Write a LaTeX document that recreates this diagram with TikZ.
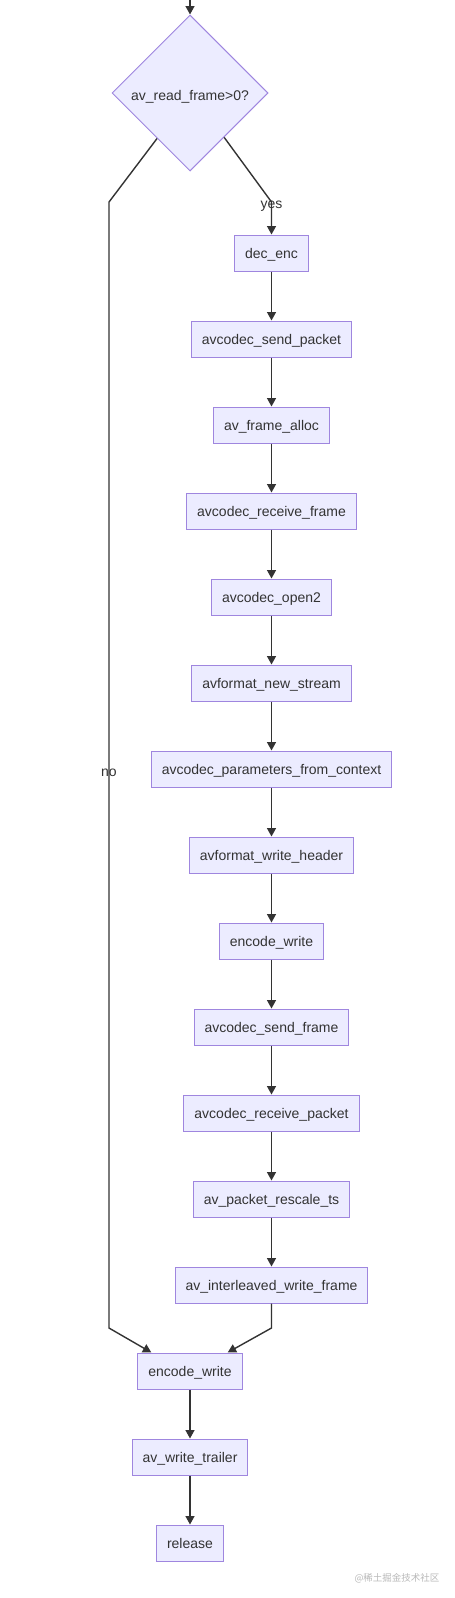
\documentclass[tikz,border=0pt]{standalone}
\usepackage{fontspec}
\setmainfont{Liberation Sans}
\newfontfamily\cjk{Noto Sans CJK SC}
\usetikzlibrary{shapes.geometric,arrows.meta,calc}
\definecolor{boxfill}{HTML}{ECECFF}
\definecolor{boxdraw}{HTML}{9F86DF}
\definecolor{edgecol}{HTML}{333333}
\definecolor{wmark}{HTML}{B8B8B8}
\begin{document}
\begin{tikzpicture}[x=1pt,y=-1pt,
  txt/.style={font=\fontsize{14pt}{16pt}\selectfont, text=edgecol},
  box/.style={txt, draw=boxdraw, fill=boxfill, line width=1pt, minimum height=36pt, inner xsep=10.5pt, inner ysep=0pt, text height=13pt, text depth=2pt},
  cond/.style={txt, diamond, draw=boxdraw, fill=boxfill, line width=1pt, minimum width=156pt, minimum height=156pt, inner sep=0pt, text height=15pt, text depth=1pt},
  flow/.style={draw=edgecol, line width=1.4pt, -{Triangle[length=8.5pt,width=9pt]}},
  lbl/.style={txt, inner sep=0pt}]
\useasboundingbox (0,0) rectangle (455,1598);

\node[cond] (rf) at (190,93) {av\_read\_frame>0?};

\node[box] (dec) at (271.5,253) {dec\_enc};
\node[box] (ssp) at (271.5,339) {avcodec\_send\_packet};
\node[box] (fal) at (271.5,425) {av\_frame\_alloc};
\node[box] (rcf) at (271.5,511) {avcodec\_receive\_frame};
\node[box] (op2) at (271.5,597) {avcodec\_open2};
\node[box] (nst) at (271.5,683) {avformat\_new\_stream};
\node[box] (pfc) at (271.5,769) {avcodec\_parameters\_from\_context};
\node[box] (wrh) at (271.5,855) {avformat\_write\_header};
\node[box] (ew1) at (271.5,941) {encode\_write};
\node[box] (ssf) at (271.5,1027) {avcodec\_send\_frame};
\node[box] (rcp) at (271.5,1113) {avcodec\_receive\_packet};
\node[box] (rts) at (271.5,1199) {av\_packet\_rescale\_ts};
\node[box] (iwf) at (271.5,1285) {av\_interleaved\_write\_frame};
\node[box] (ew2) at (190,1371) {encode\_write};
\node[box] (wtr) at (190,1457) {av\_write\_trailer};
\node[box] (rel) at (190,1543) {release};

\coordinate (start) at (190,0);
\draw[flow] (start) -- (rf.north);

\coordinate (nobend) at (109,202);
\coordinate (nojoin) at (109,1328);
\draw[flow] ($(rf.west)!0.58!(rf.south)$) -- (nobend) -- (nojoin) -- ($(ew2.north west)+(14,0)$);
\node[lbl] (nolbl) at (109,773) {no};

\coordinate (yesbend) at (271.5,202);
\draw[flow] ($(rf.east)!0.565!(rf.south)$) -- (yesbend) -- (dec.north);
\node[lbl] (yeslbl) at (271.5,206) {yes};

\draw[flow] (dec) -- (ssp);
\draw[flow] (ssp) -- (fal);
\draw[flow] (fal) -- (rcf);
\draw[flow] (rcf) -- (op2);
\draw[flow] (op2) -- (nst);
\draw[flow] (nst) -- (pfc);
\draw[flow] (pfc) -- (wrh);
\draw[flow] (wrh) -- (ew1);
\draw[flow] (ew1) -- (ssf);
\draw[flow] (ssf) -- (rcp);
\draw[flow] (rcp) -- (rts);
\draw[flow] (rts) -- (iwf);

\coordinate (ijoin) at (271.5,1328);
\draw[flow] (iwf.south) -- (ijoin) -- ($(ew2.north east)+(-15,0)$);

\draw[flow] (ew2) -- (wtr);
\draw[flow] (wtr) -- (rel);

\node[font=\cjk\fontsize{9.5pt}{11pt}\selectfont, text=wmark, inner sep=0pt] (wm) at (397,1578) {@稀土掘金技术社区};
\end{tikzpicture}
\end{document}
